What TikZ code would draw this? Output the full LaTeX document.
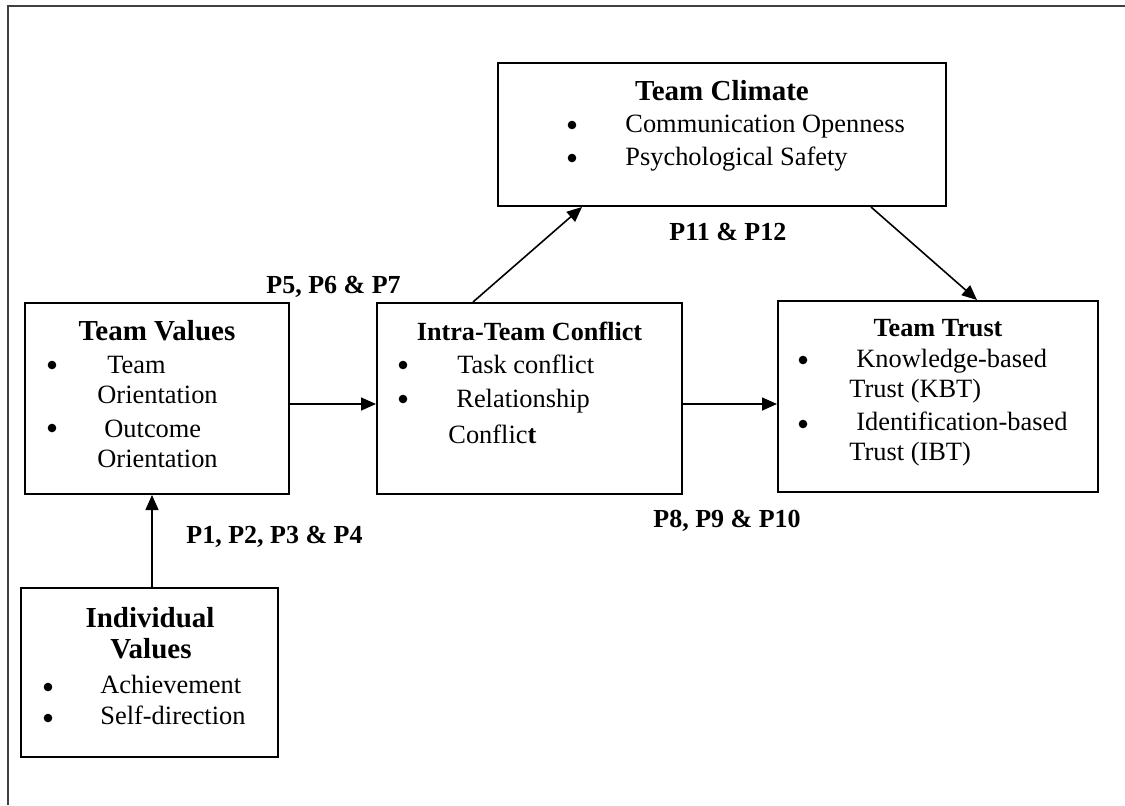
\documentclass[tikz,border=0pt]{standalone}
\usepackage{fontspec}
\setmainfont{Liberation Serif}
\usetikzlibrary{arrows.meta}
\tikzset{
  box/.style={draw=black, line width=1pt, inner sep=0pt, rectangle},
  arr/.style={draw=black, line width=0.8pt, -{Triangle[length=7.5pt,width=6.5pt]}},
  frameline/.style={draw=black!75, line width=1.3pt},
  body/.style={inner sep=0pt, anchor=base west, font=\fontsize{13.2}{15}\selectfont},
  bul/.style={circle, fill=black, inner sep=0pt, minimum size=4.3pt},
  ttl/.style={inner sep=0pt, anchor=base, font=\fontsize{14.5}{17}\selectfont\bfseries},
  ttls/.style={inner sep=0pt, anchor=base, font=\fontsize{13.1}{16}\selectfont\bfseries},
  plab/.style={inner sep=0pt, anchor=base west, font=\fontsize{13}{15}\selectfont\bfseries},
}
\begin{document}
\begin{tikzpicture}[x=0.5pt, y=-0.5pt]
\useasboundingbox (0,0) rectangle (1125,805);
% outer frame (top and left edges)
\coordinate (ftl) at (8,6);
\coordinate (ftr) at (1125,6);
\coordinate (fbl) at (8,805);
\draw[frameline] (ftr) -- (ftl) -- (fbl);

% boxes
\node[box, minimum width=224pt, minimum height=71.5pt] (clim) at (722,134.5) {};
\node[box, minimum width=132pt, minimum height=95.5pt] (tv) at (157,398.5) {};
\node[box, minimum width=152.5pt, minimum height=95.5pt] (itc) at (529.5,398.5) {};
\node[box, minimum width=160pt, minimum height=95.5pt] (tt) at (938,396.5) {};
\node[box, minimum width=128.5pt, minimum height=84.5pt] (iv) at (149.5,672.5) {};

% Team Climate
\node[ttl] (climT) at (722,100) {Team Climate};
\node[bul] (climB1) at (572,125) {};
\node[body] (climL1) at (625,132) {Communication Openness};
\node[bul] (climB2) at (572,158) {};
\node[body] (climL2) at (625,165) {Psychological Safety};

% Team Values
\node[ttl] (tvT) at (157,340) {Team Values};
\node[bul] (tvB1) at (52,365) {};
\node[body] (tvL1) at (107,373) {Team};
\node[body] (tvL2) at (97,403) {Orientation};
\node[bul] (tvB2) at (52,428) {};
\node[body] (tvL3) at (104,437) {Outcome};
\node[body] (tvL4) at (97,467) {Orientation};

% Intra-Team Conflict
\node[ttls] (itcT) at (529.5,340) {Intra-Team Conflict};
\node[bul] (itcB1) at (403,365) {};
\node[body] (itcL1) at (457,373) {Task conflict};
\node[bul] (itcB2) at (403,399) {};
\node[body] (itcL2) at (456,407) {Relationship};
\node[body] (itcL3) at (448,443) {Conflic\textbf{t}};

% Team Trust
\node[ttls] (ttT) at (938,336) {Team Trust};
\node[bul] (ttB1) at (803,360) {};
\node[body] (ttL1) at (856,367) {Knowledge-based};
\node[body] (ttL2) at (849,397) {Trust (KBT)};
\node[bul] (ttB2) at (803,424) {};
\node[body] (ttL3) at (856,430) {Identification-based};
\node[body] (ttL4) at (849,460) {Trust (IBT)};

% Individual Values
\node[ttl] (ivT1) at (150,627) {Individual};
\node[ttl] (ivT2) at (151,658) {Values};
\node[bul] (ivB1) at (48,687) {};
\node[body] (ivL1) at (100,693) {Achievement};
\node[bul] (ivB2) at (48,718) {};
\node[body] (ivL2) at (100,724) {Self-direction};

% proposition labels
\node[plab] (p567) at (266,293) {P5, P6 \& P7};
\node[plab] (p1112) at (669,240) {P11 \& P12};
\node[plab] (p8910) at (653,527) {P8, P9 \& P10};
\node[plab] (p1234) at (186,543) {P1, P2, P3 \& P4};

% connectors
\draw[arr] ([xshift=1.25pt]iv.north) -- ([xshift=1.25pt]tv.south -| iv.north);
\draw[arr] ([yshift=-2.75pt]tv.east) -- ([yshift=-2.75pt]itc.west);
\draw[arr] ([yshift=-2.75pt]itc.east) -- ([yshift=-3.75pt]tt.west);
\draw[arr] ([xshift=-28.25pt]itc.north) -- ([xshift=-70pt]clim.south);
\draw[arr] ([xshift=74.5pt]clim.south) -- ([xshift=19.5pt]tt.north);
\end{tikzpicture}
\end{document}
